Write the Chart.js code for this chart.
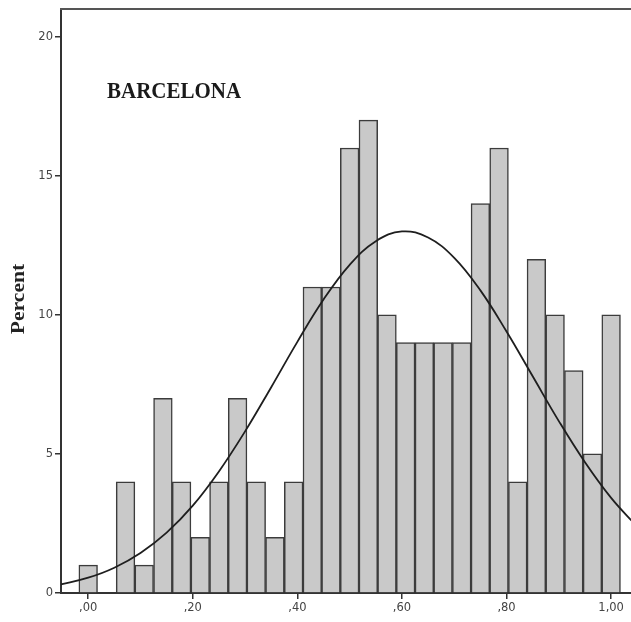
<!DOCTYPE html>
<html>
<head>
<meta charset="utf-8">
<script src="https://cdn.jsdelivr.net/npm/chart.js@4"></script>
<style>
  html, body { margin: 0; padding: 0; background: #fff; }
  #wrap { width: 631px; height: 622px; }
</style>
</head>
<body>
<div id="wrap"><canvas id="hist_chart" width="631" height="622"></canvas></div>
<script>
// histogram bins (centres) and their percent heights
var binCenters = [0, 0.0357, 0.0714, 0.1071, 0.1429, 0.1786, 0.2143, 0.25, 0.2857, 0.3214,
    0.3571, 0.3929, 0.4286, 0.4643, 0.5, 0.5357, 0.5714, 0.6071, 0.6429, 0.6786,
    0.7143, 0.75, 0.7857, 0.8214, 0.8571, 0.8929, 0.9286, 0.9643, 1.0];
var percentValues = [1, 0, 4, 1, 7, 4, 2, 4, 7, 4,
    2, 4, 11, 11, 16, 17, 10, 9, 9, 9,
    9, 14, 16, 4, 12, 10, 8, 5, 10];

// normal curve, points
var curveX = [-0.06, -0.05, 0, 0.05, 0.1, 0.15, 0.2, 0.25, 0.3, 0.35, 0.4, 0.45,
    0.5, 0.55, 0.6, 0.65, 0.7, 0.75, 0.8, 0.85, 0.9, 0.95, 1.0, 1.05];
var curveY = [0.29, 0.32, 0.55, 0.91, 1.44, 2.17, 3.14, 4.37, 5.81, 7.40, 9.03, 10.55,
    11.80, 12.65, 13.0, 12.78, 12.05, 10.88, 9.40, 7.79, 6.18, 4.70, 3.42, 2.38];

var xTickValues = [0, 0.2, 0.4, 0.6, 0.8, 1.0];
var yTickValues = [0, 5, 10, 15, 20];
var chartLabel = "BARCELONA";
var yAxisTitle = "Percent";

var framePlugin = {
    id: 'frame',
    afterDraw: function (chart) {
        var ctx = chart.ctx;
        var area = chart.chartArea;
        ctx.save();
        // top frame line
        ctx.strokeStyle = '#555';
        ctx.lineWidth = 2;
        ctx.beginPath();
        ctx.moveTo(area.left - 1, area.top);
        ctx.lineTo(area.right, area.top);
        ctx.stroke();

        // label inside the plot
        ctx.fillStyle = '#1a1a1a';
        ctx.translate(107, 98);
        ctx.scale(1, 1.12);
        ctx.font = "bold 21px 'Liberation Serif'";
        ctx.textAlign = 'left';
        ctx.textBaseline = 'alphabetic';
        ctx.fillText(chartLabel, 0, 0);
        ctx.restore();

        // y axis title
        ctx.save();
        ctx.fillStyle = '#222';
        ctx.translate(19, 299);
        ctx.rotate(-Math.PI / 2);
        ctx.scale(1.2, 1);
        ctx.font = "bold 18px 'Liberation Serif'";
        ctx.textAlign = 'center';
        ctx.textBaseline = 'middle';
        ctx.fillText(yAxisTitle, 0, 0);
        ctx.restore();
    }
};

function fmtTick(value) {
    return Number(value).toFixed(2).replace('.', ',').replace(/^0/, '');
}

new Chart(document.getElementById("hist_chart").getContext("2d"), {
    type: 'bar',
    data: {
        datasets: [{
            type: 'line',
            data: curveX.map(function (x, i) { return { x: x, y: curveY[i] }; }),
            borderColor: '#1e1e1e',
            borderWidth: 1.8,
            pointRadius: 0,
            tension: 0.4,
            fill: false,
            order: 0
        }, {
            type: 'bar',
            data: binCenters.map(function (x, i) { return { x: x, y: percentValues[i] }; }),
            backgroundColor: '#c9c9c9',
            borderColor: '#3c3c3c',
            borderWidth: 1.5,
            barPercentage: 1,
            categoryPercentage: 1,
            order: 1
        }]
    },
    options: {
        responsive: false,
        animation: false,
        layout: { padding: { top: 8, right: 0, left: 0, bottom: 0 } },
        plugins: {
            legend: { display: false },
            tooltip: { enabled: false }
        },
        scales: {
            x: {
                type: 'linear',
                min: -0.052,
                max: 1.038,
                offset: false,
                afterFit: function (s) { s.height = 29; },
                afterBuildTicks: function (s) {
                    s.ticks = xTickValues.map(function (v) { return { value: v }; });
                },
                grid: { drawOnChartArea: false, drawTicks: true, tickLength: 6, color: '#333', lineWidth: 1.5, offset: false },
                border: { display: true, color: '#333', width: 2 },
                ticks: {
                    padding: 2,
                    autoSkip: false,
                    maxRotation: 0,
                    color: '#444',
                    font: { family: 'DejaVu Sans', size: 11.5 },
                    callback: fmtTick
                }
            },
            y: {
                min: 0,
                max: 21.0,
                afterFit: function (s) { s.width = 61; },
                afterBuildTicks: function (s) {
                    s.ticks = yTickValues.map(function (v) { return { value: v }; });
                },
                grid: { drawOnChartArea: false, drawTicks: true, tickLength: 6, color: '#333', lineWidth: 1.5 },
                border: { display: true, color: '#333', width: 2 },
                ticks: {
                    padding: 2,
                    color: '#444',
                    font: { family: 'DejaVu Sans', size: 11.5 }
                }
            }
        }
    },
    plugins: [framePlugin]
});
</script>
</body>
</html>
